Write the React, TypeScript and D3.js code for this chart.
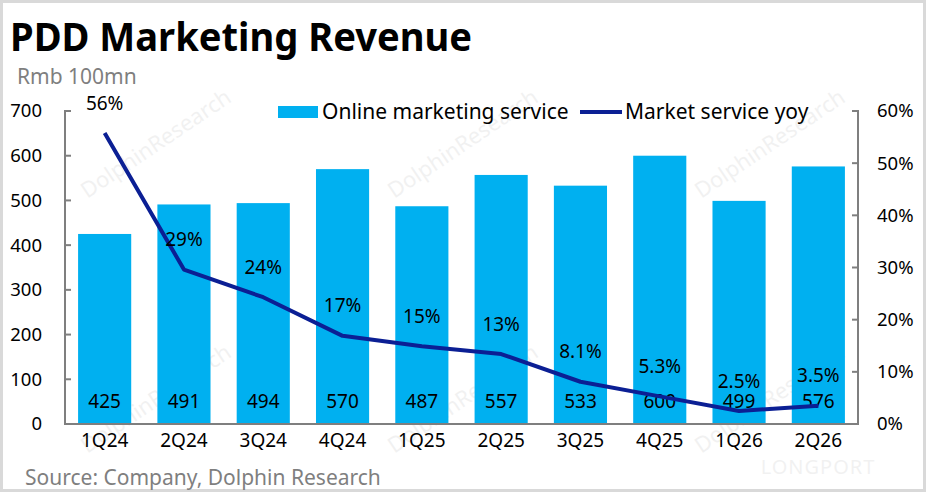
import * as d3 from 'd3';

const quarters = ['1Q24', '2Q24', '3Q24', '4Q24', '1Q25', '2Q25', '3Q25', '4Q25', '1Q26', '2Q26'];
const revenue = [425, 491, 494, 570, 487, 557, 533, 600, 499, 576];
const yoy = [0.558, 0.296, 0.243, 0.169, 0.149, 0.134, 0.081, 0.053, 0.025, 0.035];
const yoyLabels = ['56%', '29%', '24%', '17%', '15%', '13%', '8.1%', '5.3%', '2.5%', '3.5%'];
const leftTicks = [0, 100, 200, 300, 400, 500, 600, 700];
const rightTicks = [0, 0.1, 0.2, 0.3, 0.4, 0.5, 0.6];

const W = 926;
const H = 492;
const FONT = '"Noto Sans", "Open Sans", sans-serif';
const BAR = '#00B0F0';
const LINE = '#0B1F94';
const AXIS = '#7F7F7F';

const plot = { left: 65, right: 858, top: 111, bottom: 424 };

export default function App() {
  const x = d3.scaleBand<string>()
    .domain(quarters)
    .range([plot.left, plot.right])
    .paddingInner(0.33)
    .paddingOuter(0.165);
  const y = d3.scaleLinear().domain([0, 700]).range([plot.bottom, plot.top]);
  const yR = d3.scaleLinear().domain([0, 0.6]).range([plot.bottom, plot.top]);
  const cx = (q: string) => (x(q) ?? 0) + x.bandwidth() / 2;

  const line = d3.line<number>()
    .x((_, i) => cx(quarters[i]))
    .y(d => yR(d));

  // faint background watermarks
  const marks = [
    [160, 150], [467, 150], [774, 150],
    [160, 405], [467, 405], [774, 405],
  ];

  return (
    <svg
      width={W}
      height={H}
      style={{ position: 'absolute', left: 0, top: 0, background: '#fff' }}
      fontFamily={FONT}
    >
      <rect x={1.5} y={1.5} width={W - 3} height={H - 3} fill="#fff" stroke="#D9D9D9" strokeWidth={3} />

      {marks.map(([mx, my], i) => (
        <text
          key={i}
          transform={`translate(${mx},${my}) rotate(-34)`}
          textAnchor="middle"
          fontSize={22}
          fill="#000"
          opacity={0.05}
        >
          DolphinResearch
        </text>
      ))}
      <text x={818} y={474} textAnchor="middle" fontSize={20} fill="#000" opacity={0.05} letterSpacing={1}>
        LONGPORT
      </text>

      <text x={10} y={51} fontSize={40} fontWeight={700} fill="#000" textLength={462} lengthAdjust="spacingAndGlyphs">
        PDD Marketing Revenue
      </text>
      <text x={17} y={84} fontSize={21} fill={AXIS}>Rmb 100mn</text>

      {quarters.map((q, i) => (
        <rect key={q} x={x(q)} y={y(revenue[i])} width={x.bandwidth()} height={y(0) - y(revenue[i])} fill={BAR} />
      ))}

      <g stroke={AXIS} strokeWidth={2} fill="none">
        <line x1={plot.left} x2={plot.left} y1={plot.top - 1} y2={plot.bottom} />
        <line x1={plot.right} x2={plot.right} y1={plot.top - 1} y2={plot.bottom} />
        <line x1={plot.left - 1} x2={plot.right + 1} y1={plot.bottom} y2={plot.bottom} />
        {leftTicks.map(t => (
          <line key={`l${t}`} x1={plot.left} x2={plot.left + 6} y1={y(t)} y2={y(t)} />
        ))}
        {rightTicks.map(t => (
          <line key={`r${t}`} x1={plot.right - 6} x2={plot.right} y1={yR(t)} y2={yR(t)} />
        ))}
      </g>

      <g fontSize={18.5} fill="#000">
        {leftTicks.map(t => (
          <text key={t} x={42} y={y(t)} dy="0.35em" textAnchor="end">{t}</text>
        ))}
        {rightTicks.map(t => (
          <text key={t} x={877} y={yR(t)} dy="0.35em">{d3.format('.0%')(t)}</text>
        ))}
      </g>
      <g fontSize={19} fill="#000">
        {quarters.map(q => (
          <text key={q} x={cx(q)} y={440} dy="0.35em" textAnchor="middle">{q}</text>
        ))}
        {quarters.map((q, i) => (
          <text key={q} x={cx(q)} y={401} dy="0.35em" textAnchor="middle">{revenue[i]}</text>
        ))}
      </g>

      <path d={line(yoy) ?? ''} fill="none" stroke={LINE} strokeWidth={4} strokeLinejoin="round" />
      <g fontSize={19} fill="#000">
        {quarters.map((q, i) => (
          <text key={q} x={cx(q)} y={yR(yoy[i]) - 30} dy="0.35em" textAnchor="middle">{yoyLabels[i]}</text>
        ))}
      </g>

      <rect x={278} y={106} width={40} height={12} fill={BAR} />
      <text x={322} y={112} dy="0.35em" fontSize={21} fill="#000">Online marketing service</text>
      <line x1={580} x2={622} y1={112} y2={112} stroke={LINE} strokeWidth={4} />
      <text x={625} y={112} dy="0.35em" fontSize={21} fill="#000">Market service yoy</text>

      <text x={25} y={478} dy="0.35em" fontSize={21} fill={AXIS}>Source: Company, Dolphin Research</text>
    </svg>
  );
}
